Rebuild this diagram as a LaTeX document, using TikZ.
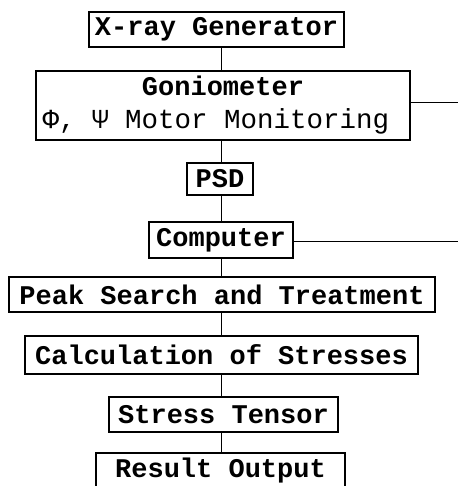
\documentclass[tikz,border=0pt]{standalone}
\usepackage{fontspec}
\setmonofont{Liberation Mono}
\begin{document}
\begin{tikzpicture}[x=1pt,y=-1pt,
  box/.style={draw,line width=1.3pt,inner sep=0pt,align=center,
    font=\fontsize{27}{36}\selectfont\ttfamily\bfseries},
  link/.style={line width=1pt}]
\useasboundingbox[fill=white] (0,0) rectangle (458,486);
\coordinate (axis) at (221,0);
\node[box,minimum width=255pt,minimum height=35pt] (gen) at (216.5,29.5) {X-ray Generator};
\node[box,minimum width=374pt,minimum height=69pt] (gon) at (223,105.5) {};
\node (gontop) at (223,86) {\fontsize{27}{30}\selectfont\ttfamily\bfseries Goniometer};
\node (gonbot) at (216,121) {\fontsize{27.5}{30}\selectfont\ttfamily Φ, Ψ Motor Monitoring};
\node[box,minimum width=66pt,minimum height=32pt] (psd) at (220,179) {PSD};
\node[box,minimum width=144pt,minimum height=36pt] (comp) at (221,240) {Computer};
\node[box,minimum width=426pt,minimum height=35pt] (peak) at (222,294.5) {Peak Search and Treatment};
\node[box,minimum width=393pt,minimum height=38pt] (calc) at (221.5,355) {Calculation of Stresses};
\node[box,minimum width=229pt,minimum height=35pt] (st) at (223.5,414.5) {Stress Tensor};
\node[box,minimum width=249pt,minimum height=36pt] (res) at (220.5,471) {Result Output};
\coordinate (gonout) at (458,103);
\coordinate (compout) at (458,241);
\draw[link] (axis |- gen.south) -- (axis |- gon.north);
\draw[link] (axis |- gon.south) -- (axis |- psd.north);
\draw[link] (axis |- psd.south) -- (axis |- comp.north);
\draw[link] (axis |- comp.south) -- (axis |- peak.north);
\draw[link] (axis |- peak.south) -- (axis |- calc.north);
\draw[link] (axis |- calc.south) -- (axis |- st.north);
\draw[link] (axis |- st.south) -- (axis |- res.north);
\draw[link] (gon.east |- gonout) -- (gonout);
\draw[link] (comp.east |- compout) -- (compout);
\end{tikzpicture}
\end{document}
